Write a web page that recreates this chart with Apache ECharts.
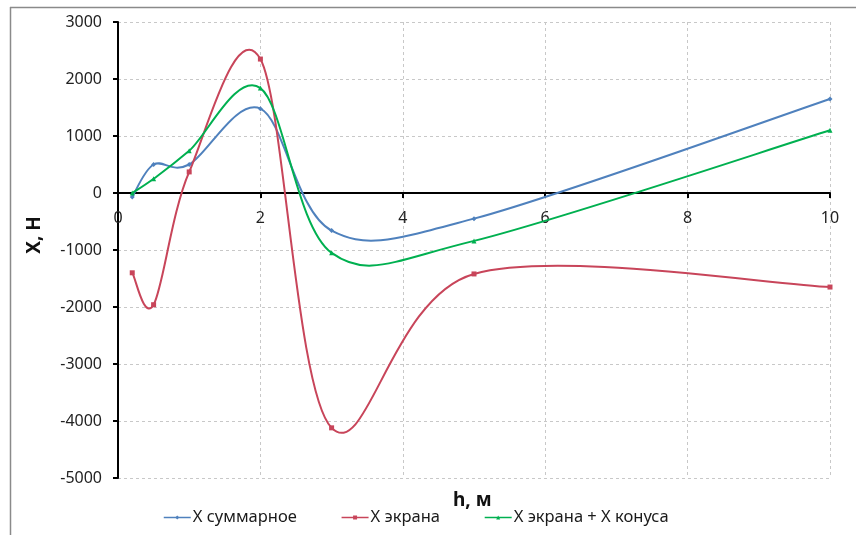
<!DOCTYPE html>
<html>
<head>
<meta charset="utf-8">
<script src="https://cdn.jsdelivr.net/npm/echarts@6/dist/echarts.min.js"></script>
<style>
  html, body { margin: 0; padding: 0; background: #fff; }
  #chart { width: 856px; height: 535px; }
</style>
</head>
<body>
<div id="chart"></div>
<script>
// Height h, m
const heights = [0.2, 0.5, 1, 2, 3, 5, 10];
// Force X, N for each configuration
const xTotal = [-70, 500, 500, 1480, -660, -450, 1650];
const xScreen = [-1400, -1960, 370, 2350, -4120, -1420, -1650];
const xScreenCone = [0, 250, 740, 1840, -1050, -840, 1100];

const seriesNames = ['X суммарное', 'X экрана', 'X экрана + X конуса'];
const seriesValues = [xTotal, xScreen, xScreenCone];
const seriesColors = ['#4F81BD', '#C8455A', '#00B050'];
const seriesSymbols = ['diamond', 'rect', 'triangle'];

const FONT = '"Noto Sans", "Open Sans", sans-serif';

function pairs(ys) {
  return heights.map((h, i) => [h, ys[i]]);
}

// Smooth curve through pixel points: cubic Bezier segments whose
// tangents follow the Catmull-Rom rule (neighbour difference / 6),
// end points use their single neighbour.
function splinePath(pts) {
  let d = 'M' + pts[0][0] + ' ' + pts[0][1];
  for (let i = 0; i < pts.length - 1; i++) {
    const p0 = pts[i > 0 ? i - 1 : i];
    const p1 = pts[i];
    const p2 = pts[i + 1];
    const p3 = pts[i + 2 < pts.length ? i + 2 : i + 1];
    const c1x = p1[0] + (p2[0] - p0[0]) / 6;
    const c1y = p1[1] + (p2[1] - p0[1]) / 6;
    const c2x = p2[0] - (p3[0] - p1[0]) / 6;
    const c2y = p2[1] - (p3[1] - p1[1]) / 6;
    d += ' C' + c1x + ' ' + c1y + ' ' + c2x + ' ' + c2y + ' ' + p2[0] + ' ' + p2[1];
  }
  return d;
}

const chart = echarts.init(document.getElementById('chart'));

// Markers + legend entry (its own connecting line is hidden)
const markerSeries = (idx) => ({
  name: seriesNames[idx],
  type: 'line',
  data: pairs(seriesValues[idx]),
  symbol: seriesSymbols[idx],
  symbolSize: 5,
  showSymbol: true,
  lineStyle: { color: seriesColors[idx], width: 2, opacity: 0 },
  itemStyle: { color: seriesColors[idx] },
  emphasis: { disabled: true },
  z: 6 + idx
});

// Smoothed curve drawn through the same data
const curveSeries = (idx) => ({
  name: seriesNames[idx],
  type: 'custom',
  coordinateSystem: 'cartesian2d',
  data: pairs(seriesValues[idx]),
  silent: true,
  z: 3 + idx,
  renderItem: function (params, api) {
    if (params.dataIndex !== 0) return null;
    const pts = heights.map((h, i) => api.coord([h, seriesValues[idx][i]]));
    return {
      type: 'path',
      shape: { pathData: splinePath(pts) },
      style: { fill: 'none', stroke: seriesColors[idx], lineWidth: 2 }
    };
  }
});

chart.setOption({
  animation: false,
  backgroundColor: '#fff',
  grid: { left: 118, right: 26, top: 22, bottom: 57 },
  graphic: [
    { type: 'line', shape: { x1: 10, y1: 7.5, x2: 856, y2: 7.5 }, style: { stroke: '#8a8a8a', lineWidth: 1.5 } },
    { type: 'line', shape: { x1: 10.5, y1: 7, x2: 10.5, y2: 535 }, style: { stroke: '#8a8a8a', lineWidth: 1.5 } },
    {
      type: 'text', left: 453, top: 491,
      style: { text: 'h, м', font: 'bold 19px ' + FONT, fill: '#111' }
    }
  ],
  legend: {
    data: seriesNames.map((n, i) => ({
      name: n,
      lineStyle: { color: seriesColors[i], width: 1.5, opacity: 1 },
      itemStyle: { color: seriesColors[i] }
    })),
    left: 158,
    top: 504,
    itemWidth: 27,
    itemHeight: 5,
    itemGap: 44,
    textStyle: { fontFamily: FONT, fontSize: 16.5, color: '#1a1a1a', padding: [0, 0, 0, -3] }
  },
  xAxis: {
    type: 'value',
    min: 0,
    max: 10,
    interval: 2,
    axisLine: { onZero: true, lineStyle: { color: '#000', width: 2 } },
    axisTick: { show: true, length: 5, lineStyle: { color: '#000', width: 2 } },
    // labels sit just under the zero line
    axisLabel: { fontFamily: FONT, fontSize: 16, color: '#222', margin: -268, formatter: v => String(v) },
    splitLine: { show: true, lineStyle: { color: '#c8c8c8', type: [3, 3], width: 1 } }
  },
  yAxis: {
    type: 'value',
    min: -5000,
    max: 3000,
    interval: 1000,
    name: 'X, H',
    nameLocation: 'middle',
    nameRotate: 90,
    nameGap: 74,
    nameTextStyle: { fontFamily: FONT, fontSize: 19, fontWeight: 'bold', color: '#111', padding: [0, 0, 0, 30] },
    axisLine: { show: true, onZero: false, lineStyle: { color: '#000', width: 2 } },
    axisTick: { show: true, length: 5, lineStyle: { color: '#000', width: 2 } },
    axisLabel: { fontFamily: FONT, fontSize: 16, color: '#222', margin: 16, formatter: v => String(v) },
    splitLine: { show: true, lineStyle: { color: '#c8c8c8', type: [3, 3], width: 1 } }
  },
  series: [
    markerSeries(0), markerSeries(1), markerSeries(2),
    curveSeries(0), curveSeries(1), curveSeries(2)
  ]
});
</script>
</body>
</html>
